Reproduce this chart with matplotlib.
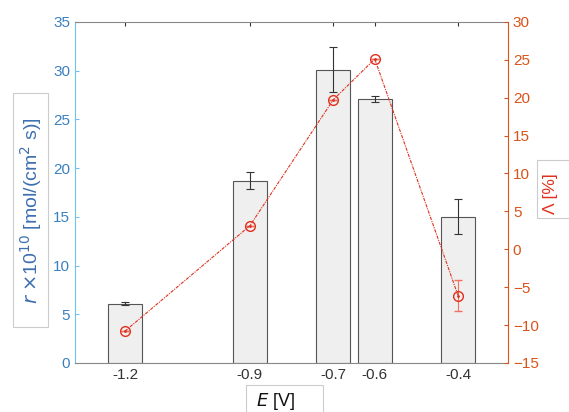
import matplotlib
matplotlib.use('Agg')
import matplotlib.pyplot as plt
from matplotlib.patches import Rectangle
import numpy as np

plt.rcParams['font.family'] = ['Liberation Sans', 'DejaVu Sans']

# data
E_vals   = [-1.2, -0.9, -0.7, -0.6, -0.4]
rate     = [6.1, 18.7, 30.1, 27.1, 15.0]
rate_err = [0.15, 0.85, 2.3, 0.3, 1.8]
lam      = [-10.8, 3.1, 19.7, 25.1, -6.1]
lam_err  = [0, 0, 0, 0, 2.1]
xticks   = [-1.2, -0.9, -0.7, -0.6, -0.4]

blue_tick = '#3a80c0'
blue_spine = '#6ec3ec'
orange = '#d95319'
red = '#e0301e'

fig = plt.figure(figsize=(5.69, 4.12), dpi=100)
ax = fig.add_axes([0.1318, 0.119, 0.761, 0.828])

ax.bar(E_vals, rate, width=0.082, color='#efefef', edgecolor='#555555', lw=0.8, zorder=2)
ax.errorbar(E_vals, rate, yerr=rate_err, fmt='none', ecolor='#333333', elinewidth=0.8,
            capsize=3, capthick=0.8, zorder=3)
ax.set_xlim(-1.32, -0.28)
ax.set_ylim(0, 35)
ax.set_yticks(np.arange(0, 36, 5))
ax.set_xticks(xticks)
ax.set_xticklabels(['%g' % v for v in xticks])
ax.tick_params(axis='x', direction='in', top=True, colors='#333333', labelsize=11, length=3)
ax.tick_params(axis='y', direction='in', colors=blue_spine, labelcolor=blue_tick, labelsize=11, length=3)
ax.spines['left'].set_color(blue_spine)
ax.spines['top'].set_color('#888888')
ax.spines['bottom'].set_color('#888888')
ax.spines['right'].set_visible(False)

ax2 = ax.twinx()
ax2.errorbar(E_vals, lam, yerr=lam_err, fmt='o', color=red, mfc='none', ms=7, mew=1.0,
             ls=(0, (3, 1, 1, 1)), lw=0.8, ecolor='#f07060', elinewidth=0.8, capsize=3, zorder=5)
ax2.plot(E_vals, lam, '.', color=red, ms=2, zorder=6)
ax2.set_ylim(-15, 30)
ax2.set_yticks(np.arange(-15, 31, 5))
ax2.tick_params(axis='y', direction='in', colors=orange, labelsize=11, length=3)
ax2.spines['right'].set_color(orange)
ax2.spines['left'].set_visible(False)
ax2.spines['top'].set_visible(False)
ax2.spines['bottom'].set_visible(False)

# label boxes
for x0, y0, w, h in [(0.0228, 0.206, 0.0615, 0.568),
                     (0.9438, 0.471, 0.08, 0.141),
                     (0.4323, -0.01, 0.1353, 0.0755)]:
    fig.patches.append(Rectangle((x0, y0), w, h, transform=fig.transFigure,
                                 fc='white', ec='#cccccc', lw=0.8, zorder=0))

fig.text(0.0545, 0.488, r'$r$ $\times$10$^{10}$ [mol/(cm$^2$ s)]', rotation=90, ha='center', va='center',
         color='#3d6fb0', fontsize=14)
fig.text(0.967, 0.529, '\u039b [%]', rotation=90, ha='center', va='center',
         color=red, fontsize=12.5)
fig.text(0.485, 0.026, r'$\mathit{E}$ [V]', ha='center', va='center', color='#111111', fontsize=13)

fig.savefig('out.png', dpi=100)
